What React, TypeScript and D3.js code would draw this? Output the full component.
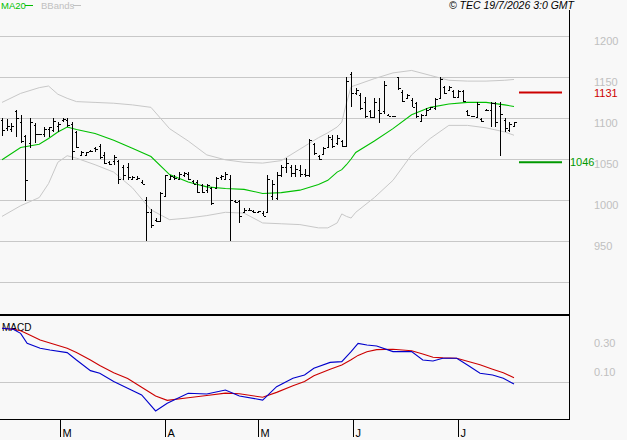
import React, { useEffect, useRef } from 'react';
import * as d3 from 'd3';

// daily bars (index 0 = first bar on the left)
const opens = [1097, 1088, 1086, 1108, 1095, 1078, 1070, 1092, 1080, 1080, 1086, 1085, 1090, 1097, 1098, 1093, 1083, 1055, 1055, 1060,
  1064, 1066, 1055, 1046, 1048, 1047, 1040, 1040, 1026, 1026, 1022, 1000, 985, 976, 975, 1005, 1026, 1028, 1026, 1030,
  1032, 1023, 1022, 1018, 1012, 1015, 1015, 1028, 1026, 1025, 999, 999, 985, 988, 987, 985, 984, 985, 1005, 1002,
  1030, 1040, 1040, 1033, 1036, 1032, 1030, 1068, 1054, 1056, 1065, 1074, 1070, 1072, 1066, 1154, 1130, 1128, 1120, 1108,
  1101, 1110, 1108, 1104, 1102, 1150, 1132, 1125, 1122, 1118, 1096, 1104, 1111, 1112, 1124, 1138, 1134, 1133, 1126, 1133,
  1108, 1102, 1101, 1099, 1110, 1110, 1118, 1115, 1098, 1085, 1090];
const highs = [1100, 1099, 1094, 1110, 1104, 1079, 1100, 1094, 1081, 1089, 1089, 1100, 1095, 1100, 1100, 1095, 1084, 1060, 1059, 1061,
  1065, 1068, 1059, 1048, 1055, 1049, 1043, 1045, 1029, 1029, 1024, 1004, 989, 978, 1010, 1030, 1030, 1030, 1034, 1034,
  1034, 1024, 1024, 1020, 1020, 1016, 1028, 1030, 1034, 1030, 1000, 1000, 990, 990, 988, 987, 986, 1030, 1024, 1034,
  1043, 1051, 1043, 1043, 1043, 1038, 1075, 1069, 1055, 1065, 1079, 1079, 1079, 1073, 1150, 1156, 1137, 1130, 1126, 1110,
  1124, 1124, 1145, 1105, 1102, 1150, 1134, 1129, 1124, 1120, 1105, 1112, 1114, 1124, 1150, 1139, 1139, 1134, 1134, 1134,
  1110, 1102, 1119, 1100, 1111, 1119, 1119, 1119, 1100, 1095, 1095];
const lows = [1078, 1084, 1083, 1077, 1069, 999, 1063, 1069, 1079, 1077, 1077, 1083, 1083, 1095, 1089, 1049, 1064, 1054, 1054, 1058,
  1058, 1050, 1044, 1043, 1043, 1019, 1024, 1024, 1024, 1024, 1019, 950, 966, 973, 974, 1004, 1024, 1024, 1024, 1028,
  1024, 1019, 1009, 1009, 1009, 994, 1014, 1024, 1024, 950, 996, 972, 984, 986, 984, 984, 980, 984, 1000, 1000,
  1028, 1033, 1028, 1028, 1028, 1028, 1028, 1055, 1049, 1055, 1063, 1063, 1067, 1065, 1065, 1114, 1128, 1110, 1100, 1100,
  1100, 1094, 1105, 1102, 1101, 1134, 1120, 1124, 1113, 1100, 1095, 1102, 1110, 1110, 1124, 1129, 1134, 1124, 1124, 1120,
  1102, 1101, 1100, 1095, 1109, 1089, 1089, 1054, 1083, 1083, 1089];
const closes = [1085, 1090, 1090, 1100, 1072, 1024, 1095, 1080, 1080, 1086, 1089, 1096, 1093, 1099, 1092, 1060, 1065, 1058, 1058, 1060,
  1062, 1052, 1045, 1044, 1053, 1025, 1030, 1028, 1028, 1027, 1020, 985, 970, 975, 1008, 1030, 1029, 1027, 1032, 1033,
  1026, 1020, 1010, 1010, 1018, 996, 1027, 1029, 1032, 1000, 997, 980, 988, 988, 985, 986, 981, 1025, 1020, 1030,
  1040, 1045, 1033, 1038, 1032, 1030, 1073, 1057, 1050, 1063, 1077, 1066, 1076, 1066, 1145, 1130, 1134, 1112, 1102, 1101,
  1120, 1106, 1140, 1103, 1102, 1136, 1121, 1128, 1114, 1102, 1104, 1110, 1113, 1123, 1148, 1131, 1138, 1126, 1133, 1121,
  1104, 1102, 1117, 1096, 1110, 1118, 1095, 1105, 1088, 1093, 1095];

// overlays sampled at these bar indices
const bandIdx = [0, 4, 8, 10, 12, 14, 16, 20, 24, 28, 32, 36, 40, 44, 48, 52, 56, 60, 64, 68, 70, 72, 73, 74, 75, 76, 80, 84, 88, 92, 96, 100, 104, 108, 110];
const ma20 = [1049, 1064, 1068, 1075, 1083, 1089, 1086, 1081, 1073, 1063, 1053, 1031, 1022, 1016, 1014, 1013, 1008, 1009, 1012, 1019,
  1024, 1034, 1037, 1043, 1050, 1058, 1072, 1087, 1104, 1113, 1117, 1119, 1119, 1116, 1114];
const bbUpper = [1119, 1130, 1137, 1139, 1129, 1124, 1120, 1119, 1118, 1116, 1113, 1087, 1072, 1055, 1049, 1046, 1045, 1048, 1062, 1076,
  1082, 1089, 1095, 1118, 1138, 1140, 1148, 1155, 1158, 1152, 1146, 1145, 1145, 1146, 1147];
const bbLower = [980, 993, 1003, 1020, 1046, 1054, 1051, 1043, 1034, 1015, 988, 976, 978, 981, 985, 984, 972, 971, 970, 966,
  966, 972, 983, 980, 978, 985, 1003, 1024, 1055, 1075, 1091, 1091, 1088, 1083, 1079];

const macdIdx = [0, 2.4, 4, 5.4, 8.2, 10.3, 14, 16, 19, 21, 24, 27, 30, 33, 35.5, 40, 44, 48, 51, 56, 59, 62.5, 65, 67, 70.5,
  73, 75, 76.5, 78.4, 80.5, 84, 88, 90.4, 92.6, 94.7, 97.7, 100, 102.7, 105.4, 107.7, 110];
const macdLine = [0.367, 0.36, 0.332, 0.263, 0.229, 0.217, 0.199, 0.148, 0.075, 0.057, 0.0, -0.047, -0.093, -0.203, -0.15, -0.081,
  -0.086, -0.059, -0.1, -0.128, -0.036, 0.022, 0.045, 0.091, 0.132, 0.137, 0.206, 0.263, 0.252, 0.245, 0.206, 0.206, 0.148,
  0.141, 0.16, 0.16, 0.114, 0.057, 0.045, 0.022, -0.017];
const signalLine = [0.367, 0.36, 0.35, 0.33, 0.286, 0.265, 0.229, 0.2, 0.148, 0.11, 0.06, 0.02, -0.04, -0.1, -0.13, -0.112,
  -0.097, -0.08, -0.085, -0.109, -0.075, -0.03, 0.0, 0.04, 0.085, 0.114, 0.15, 0.18, 0.205, 0.22, 0.222, 0.212, 0.19,
  0.167, 0.163, 0.16, 0.14, 0.115, 0.085, 0.06, 0.026];

const monthLabels = ['M', 'A', 'M', 'J', 'J'];
const monthIdx = [12.5, 35, 55, 75.5, 98];
const priceGrid = [900, 950, 1000, 1050, 1100, 1150, 1200];
const priceLabels = ['950', '1000', '1050', '1100', '1150', '1200'];
const macdLabels = ['0.30', '0.10'];
const macdLabelValues = [0.3, 0.1];
const resistance = 1131;
const support = 1046;

const W = 627;
const H = 440;
const FONT = '"Liberation Sans", Arial, sans-serif';

function App() {
  const ref = useRef<HTMLDivElement>(null);

  useEffect(() => {
    const node = ref.current;
    if (!node) return;
    node.innerHTML = '';

    const plotRight = 569;
    const x = d3.scaleLinear().domain([0, 110]).range([2, 514]);
    const y = d3.scaleLinear().domain([900, 1200]).range([282, 36]);
    const ym = d3.scaleLinear().domain([0, 0.3]).range([381.5, 338]);
    const px = (v: number) => Math.round(v) + 0.5;

    const svg = d3.select(node).append('svg')
      .attr('width', W).attr('height', H)
      .attr('viewBox', `0 0 ${W} ${H}`)
      .style('display', 'block')
      .style('font-family', FONT);

    svg.append('rect').attr('width', W).attr('height', H).attr('fill', '#f8f8f8');

    // price grid
    svg.append('g').selectAll('line').data(priceGrid).join('line')
      .attr('x1', 0).attr('x2', plotRight)
      .attr('y1', d => px(y(d))).attr('y2', d => px(y(d)))
      .attr('stroke', '#c8c8c8').attr('shape-rendering', 'crispEdges');

    svg.append('g').selectAll('text').data(priceLabels).join('text')
      .attr('x', 594).attr('y', d => y(+d) + 9)
      .attr('fill', '#c0c0c0').attr('font-size', 11)
      .text(d => d);

    // bollinger bands + ma
    const line = (vals: number[], idx: number[], ys: d3.ScaleLinear<number, number>) =>
      d3.line<number>().x((_, i) => x(idx[i])).y(d => ys(d))(vals);

    svg.append('path').attr('d', line(bbUpper, bandIdx, y)).attr('fill', 'none').attr('stroke', '#c8c8c8');
    svg.append('path').attr('d', line(bbLower, bandIdx, y)).attr('fill', 'none').attr('stroke', '#c8c8c8');
    svg.append('path').attr('d', line(ma20, bandIdx, y)).attr('fill', 'none').attr('stroke', '#00c000').attr('stroke-width', 1.1);

    // OHLC bars
    const bars = svg.append('g').attr('stroke', '#000').attr('shape-rendering', 'crispEdges');
    closes.forEach((c, i) => {
      const cx = px(x(i));
      const top = Math.round(y(highs[i]));
      const bot = Math.max(Math.round(y(lows[i])), top + 1);
      bars.append('line').attr('x1', cx).attr('x2', cx).attr('y1', top).attr('y2', bot);
      bars.append('line').attr('x1', cx - 2).attr('x2', cx).attr('y1', px(y(opens[i]))).attr('y2', px(y(opens[i])));
      bars.append('line').attr('x1', cx).attr('x2', cx + 2).attr('y1', px(y(c))).attr('y2', px(y(c)));
    });

    // support / resistance
    svg.append('line').attr('x1', 519).attr('x2', 562)
      .attr('y1', y(resistance)).attr('y2', y(resistance))
      .attr('stroke', '#cc0000').attr('stroke-width', 2);
    svg.append('text').attr('x', 594).attr('y', y(resistance) + 4)
      .attr('fill', '#cc0000').attr('font-size', 11).text(String(resistance));
    svg.append('line').attr('x1', 519).attr('x2', 562)
      .attr('y1', y(support)).attr('y2', y(support))
      .attr('stroke', '#009900').attr('stroke-width', 2);
    svg.append('text').attr('x', 570).attr('y', y(support) + 4)
      .attr('fill', '#009900').attr('font-size', 11).text(String(support));

    // MACD panel
    svg.append('line').attr('x1', 0).attr('x2', plotRight)
      .attr('y1', px(ym(0))).attr('y2', px(ym(0)))
      .attr('stroke', '#c8c8c8').attr('shape-rendering', 'crispEdges');
    svg.append('g').selectAll('text').data(macdLabels).join('text')
      .attr('x', 594).attr('y', (d, i) => ym(macdLabelValues[i]) + 9)
      .attr('fill', '#c0c0c0').attr('font-size', 11)
      .text(d => d);
    svg.append('text').attr('x', 2).attr('y', 331).attr('font-size', 10).attr('fill', '#000').text('MACD');
    svg.append('path').attr('d', line(signalLine, macdIdx, ym)).attr('fill', 'none').attr('stroke', '#cc0000').attr('stroke-width', 1.1);
    svg.append('path').attr('d', line(macdLine, macdIdx, ym)).attr('fill', 'none').attr('stroke', '#0000cc').attr('stroke-width', 1.1);

    // frame
    const frame = svg.append('g').attr('stroke', '#000').attr('shape-rendering', 'crispEdges');
    frame.append('line').attr('x1', 0).attr('x2', plotRight + 1).attr('y1', 314.5).attr('y2', 314.5).attr('stroke-width', 2);
    frame.append('line').attr('x1', 0).attr('x2', plotRight + 1).attr('y1', 419.5).attr('y2', 419.5);
    frame.append('line').attr('x1', plotRight + 0.5).attr('x2', plotRight + 0.5).attr('y1', 10).attr('y2', 420);

    // month ticks
    const months = svg.append('g');
    months.selectAll('line').data(monthIdx).join('line')
      .attr('x1', d => px(x(d))).attr('x2', d => px(x(d)))
      .attr('y1', 420).attr('y2', 437)
      .attr('stroke', '#000').attr('shape-rendering', 'crispEdges');
    months.selectAll('text').data(monthLabels).join('text')
      .attr('x', (d, i) => px(x(monthIdx[i])) + 2).attr('y', 437)
      .attr('font-size', 11).attr('fill', '#000')
      .text(d => d);

    // legend + stamp
    svg.append('text').attr('x', 1).attr('y', 9).attr('font-size', 9.5).attr('fill', '#00c000').text('MA20');
    svg.append('line').attr('x1', 25).attr('x2', 33).attr('y1', 5.5).attr('y2', 5.5).attr('stroke', '#00c000');
    svg.append('text').attr('x', 41).attr('y', 9).attr('font-size', 9.5).attr('fill', '#c0c0c0').text('BBands');
    svg.append('line').attr('x1', 73).attr('x2', 81).attr('y1', 5.5).attr('y2', 5.5).attr('stroke', '#c0c0c0');
    svg.append('text').attr('x', 574).attr('y', 9).attr('text-anchor', 'end')
      .attr('font-size', 10.5).attr('font-style', 'italic').attr('fill', '#000')
      .text('© TEC 19/7/2026 3:0 GMT');
  }, []);

  return <div ref={ref} style={{ position: 'absolute', left: 0, top: 0 }}></div>;
}

export default App;
